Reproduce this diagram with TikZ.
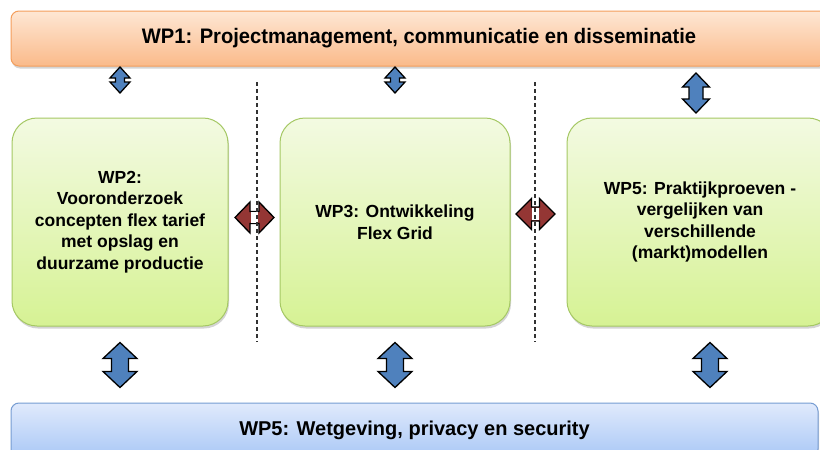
\documentclass[tikz,border=0pt]{standalone}
\usepackage{fontspec}
\setmainfont{Liberation Sans}
\newfontfamily\titlefont[FakeStretch=0.96]{Liberation Sans}
\usetikzlibrary{shadows}

\definecolor{barOrangeTop}{RGB}{254,231,212}
\definecolor{barOrangeBot}{RGB}{250,186,138}
\definecolor{barOrangeLine}{RGB}{244,158,92}
\definecolor{barBlueTop}{RGB}{224,234,252}
\definecolor{barBlueBot}{RGB}{170,200,246}
\definecolor{barBlueLine}{RGB}{118,156,210}
\definecolor{wpGreenTop}{RGB}{243,250,226}
\definecolor{wpGreenBot}{RGB}{214,242,148}
\definecolor{wpGreenLine}{RGB}{165,200,100}
\definecolor{linkBlue}{RGB}{79,129,189}
\definecolor{linkRed}{RGB}{148,54,52}
\definecolor{sepGray}{RGB}{50,50,50}

% vertical block arrow with two heads:
% centre x, centre y, half length, head length, half head width, half shaft width
\newcommand{\vlink}[6]{%
  \filldraw[blockarrow,fill=linkBlue]
    ({#1},{#2-#3}) -- ({#1+#5},{#2-#3+#4}) -- ({#1+#6},{#2-#3+#4})
    -- ({#1+#6},{#2+#3-#4}) -- ({#1+#5},{#2+#3-#4}) -- ({#1},{#2+#3})
    -- ({#1-#5},{#2+#3-#4}) -- ({#1-#6},{#2+#3-#4}) -- ({#1-#6},{#2-#3+#4})
    -- ({#1-#5},{#2-#3+#4}) -- cycle;}

% horizontal block arrow with two heads, same arguments;
% the shaft is left open (white) where a separator crosses it
\newcommand{\hlink}[6]{%
  \filldraw[blockarrow,fill=linkRed]
    ({#1-#3},{#2}) -- ({#1-#3+#4},{#2-#5}) -- ({#1-#3+#4},{#2-#6})
    -- ({#1+#3-#4},{#2-#6}) -- ({#1+#3-#4},{#2-#5}) -- ({#1+#3},{#2})
    -- ({#1+#3-#4},{#2+#5}) -- ({#1+#3-#4},{#2+#6}) -- ({#1-#3+#4},{#2+#6})
    -- ({#1-#3+#4},{#2+#5}) -- cycle;
  \fill[white] ({#1-#3+#4+0.7},{#2-#6+0.7}) rectangle ({#1+#3-#4-0.7},{#2+#6-0.7});}

\tikzset{
  softshadow/.style={drop shadow={shadow xshift=1pt,shadow yshift=-2.5pt,opacity=0.28,fill=black!60}},
  wpbar/.style={line width=1pt, rounded corners=8pt, inner sep=0pt, softshadow,
    font=\fontsize{20}{24}\selectfont\bfseries},
  wpbox/.style={draw=wpGreenLine, line width=1pt, rounded corners=25pt,
    top color=wpGreenTop, bottom color=wpGreenBot, align=center, inner sep=0pt,
    minimum height=208pt, softshadow,
    font=\fontsize{17.5}{21.5}\selectfont\bfseries},
  blockarrow/.style={draw=black, line width=1.3pt, line join=miter},
  separator/.style={draw=sepGray, line width=1.1pt, dash pattern=on 4pt off 3pt}
}

\begin{document}
\begin{tikzpicture}[x=1pt,y=-1pt]
\clip (0,0) rectangle (820,450);
\fill[white] (0,0) rectangle (820,450);

% work package bars
\node[wpbar, draw=barOrangeLine, top color=barOrangeTop, bottom color=barOrangeBot,
      minimum width=816pt, minimum height=55pt,
      font=\titlefont\fontsize{21}{24}\selectfont\bfseries] (wp1) at (419,38.5)
      {WP1: Projectmanagement, communicatie en disseminatie};
\node[wpbar, draw=barBlueLine, top color=barBlueTop, bottom color=barBlueBot,
      minimum width=807pt, minimum height=54pt] (wp5b) at (414.5,430)
      {WP5: Wetgeving, privacy en security};

% work package boxes
\node[wpbox, minimum width=216pt] (wp2) at (120,222)
      {WP2:\\Vooronderzoek\\concepten flex tarief\\met opslag en\\duurzame productie};
\node[wpbox, minimum width=230pt] (wp3) at (395,222)
      {WP3: Ontwikkeling\\Flex Grid};
\node[wpbox, minimum width=266pt] (wp5a) at (700,222)
      {WP5: Praktijkproeven -\\vergelijken van\\verschillende\\(markt)modellen};

% links to WP1
\vlink{120}{80}{13}{11}{10}{4.5}
\vlink{395}{80}{13}{11}{10}{4.5}
\vlink{696}{93}{20}{14}{13.5}{7}

% links to the legislation package
\vlink{120}{365}{22.5}{16}{17}{8.5}
\vlink{395}{365}{22.5}{16}{17}{8.5}
\vlink{710}{365}{22.5}{16}{17}{8.5}

% links between the boxes
\hlink{254.5}{217.5}{19.5}{15}{15.5}{6}
\hlink{535.5}{214}{19.5}{15.5}{15.5}{7}

% separators
\coordinate (sepA top) at (257,82);
\coordinate (sepA bot) at (257,342);
\coordinate (sepB top) at (535,82);
\coordinate (sepB bot) at (535,342);
\draw[separator] (sepA top) -- (sepA bot);
\draw[separator] (sepB top) -- (sepB bot);
\end{tikzpicture}
\end{document}
